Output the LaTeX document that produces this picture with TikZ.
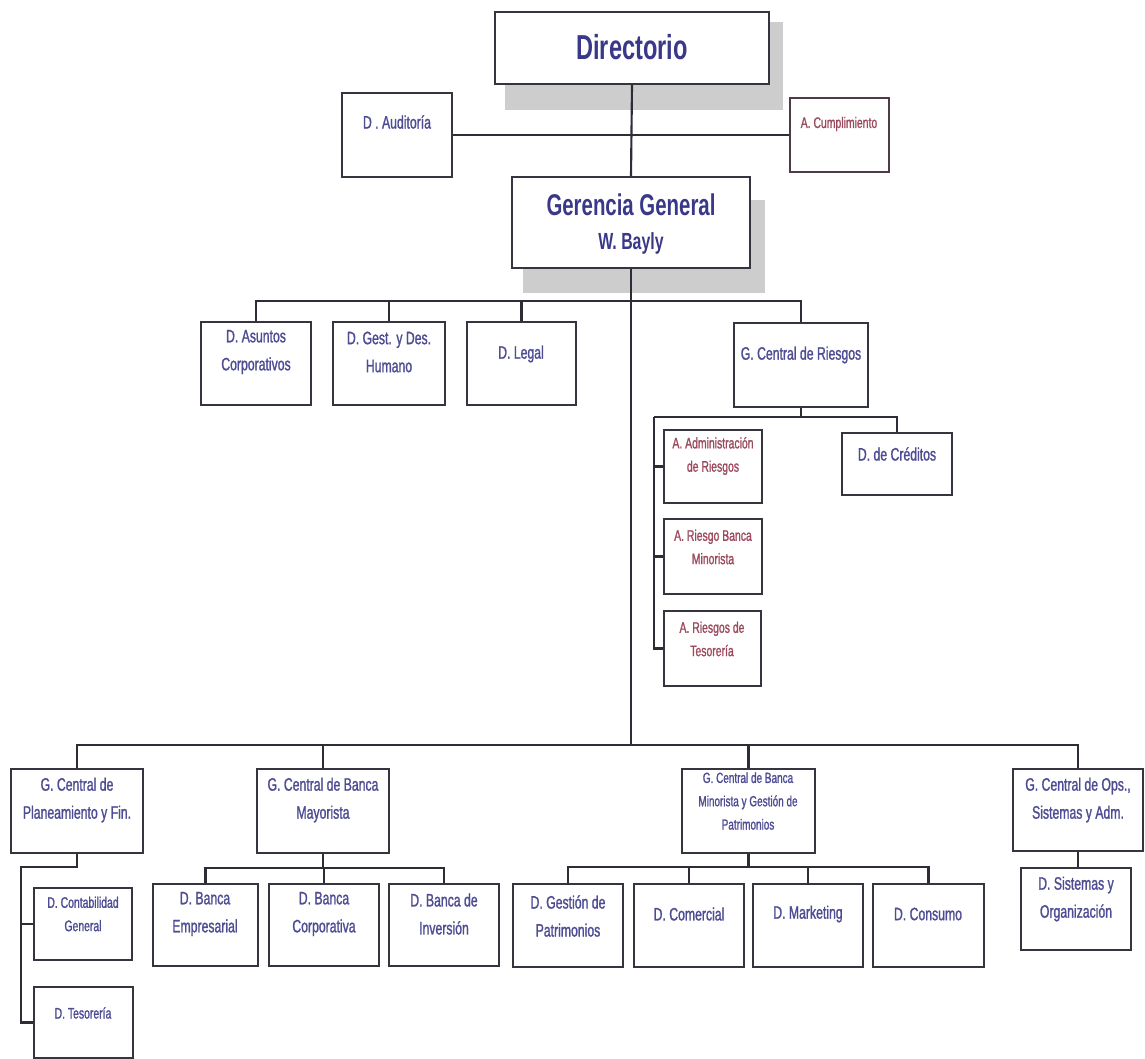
\documentclass[tikz,border=0pt]{standalone}
\usepackage{fontspec}
\setmainfont{Liberation Sans}
\newfontfamily\nar[FakeStretch=0.68]{Liberation Sans}
\newfontfamily\narl[FakeStretch=0.68,FakeBold=1.2]{Liberation Sans}
\usetikzlibrary{fit}
\definecolor{boxc}{HTML}{35343F}
\definecolor{linec}{HTML}{2E2D36}
\definecolor{titc}{HTML}{3A3888}
\definecolor{txtc}{HTML}{4E4C93}
\definecolor{redc}{HTML}{9C4A5E}
\definecolor{shadc}{HTML}{CDCDCD}

\begin{document}
\begin{tikzpicture}[x=0.75pt,y=-0.75pt,
  box/.style={draw=boxc, line width=1.3pt, fill=white, inner sep=0pt},
  lbl/.style={text=txtc, align=center, inner sep=0pt, font=\narl\fontsize{13.5}{21}\selectfont},
  sm/.style={font=\narl\fontsize{11.5}{17.5}\selectfont},
  redt/.style={text=redc},
  title/.style={text=titc, inner sep=0pt, font=\nar\bfseries\fontsize{#1}{#1}\selectfont},
  wire/.style={draw=linec, line width=1.6pt},
  shade/.style={fill=shadc, draw=none}]

\useasboundingbox (0,0) rectangle (1145,1059);
\clip (0,0) rectangle (1145,1059);

% grey drop shadows of the two top boxes
\fill[shade] (505,22) rectangle (783,110);
\fill[shade] (523,200) rectangle (765,293);

% ---- boxes ----
\node[box, fit={(495,12) (769,84)}] (dir) {};
\node[box, fit={(342,93) (452,177)}] (aud) {};
\node[box, draw=boxc!75!redc, fit={(790,98) (889,172)}] (cump) {};
\node[box, fit={(512,177) (750,268)}] (gg) {};

\node[box, fit={(201,322) (311,405)}] (das) {};
\node[box, fit={(333,322) (445,405)}] (dgh) {};
\node[box, fit={(467,322) (576,405)}] (dleg) {};
\node[box, fit={(734,323) (868,407)}] (gcr) {};

\node[box, fit={(664,430) (762,503)}] (adm) {};
\node[box, fit={(664,519) (762,594)}] (rbm) {};
\node[box, fit={(664,611) (761,686)}] (rtes) {};
\node[box, fit={(842,433) (952,495)}] (cred) {};

\node[box, fit={(11,769) (143,853)}] (gcp) {};
\node[box, fit={(257,769) (389,853)}] (gcbm) {};
\node[box, fit={(682,769) (815,853)}] (gcbn) {};
\node[box, fit={(1013,769) (1143,851)}] (ops) {};

\node[box, fit={(34,888) (132,960)}] (cont) {};
\node[box, fit={(34,987) (133,1058)}] (tes) {};
\node[box, fit={(153,884) (258,966)}] (dbe) {};
\node[box, fit={(269,884) (379,966)}] (dbc) {};
\node[box, fit={(389,884) (499,966)}] (dbi) {};
\node[box, fit={(513,884) (623,967)}] (dgp) {};
\node[box, fit={(634,884) (744,967)}] (dcom) {};
\node[box, fit={(753,884) (863,967)}] (dmkt) {};
\node[box, fit={(873,884) (984,967)}] (dcons) {};
\node[box, fit={(1021,868) (1131,950)}] (dsis) {};

% ---- labels ----
\node[title=26] (dir-t) at (632,47) {Directorio};
\node[lbl] (aud-t) at (397,122) {D . Auditoría};
\node[lbl, sm, redt] (cump-t) at (839,124) {A. Cumplimiento};
\node[title=22.5] (gg-t1) at (631,205) {Gerencia General};
\node[title=17.5] (gg-t2) at (631,243) {W. Bayly};

\node[lbl] (das-t) at (256,352) {D. Asuntos\\Corporativos};
\node[lbl] (dgh-t) at (389,352) {D. Gest. y Des.\\Humano};
\node[lbl] (dleg-t) at (521,354) {D. Legal};
\node[lbl] (gcr-t) at (801,355) {G. Central de Riesgos};

\node[lbl, sm, redt] (adm-t) at (713,456) {A. Administración\\de Riesgos};
\node[lbl, sm, redt] (rbm-t) at (713,547) {A. Riesgo Banca\\Minorista};
\node[lbl, sm, redt] (rtes-t) at (712,639) {A. Riesgos de\\Tesorería};
\node[lbl] (cred-t) at (897,454) {D. de Créditos};

\node[lbl] (gcp-t) at (77,800) {G. Central de\\Planeamiento y Fin.};
\node[lbl] (gcbm-t) at (323,800) {G. Central de Banca\\Mayorista};
\node[lbl, font=\narl\fontsize{11}{17.5}\selectfont] (gcbn-t) at (748,801) {G. Central de Banca\\Minorista y Gestión de\\Patrimonios};
\node[lbl] (ops-t) at (1078,800) {G. Central de Ops.,\\Sistemas y Adm.};

\node[lbl, sm] (cont-t) at (83,914) {D. Contabilidad\\General};
\node[lbl, sm] (tes-t) at (83,1013) {D. Tesorería};
\node[lbl] (dbe-t) at (205,914) {D. Banca\\Empresarial};
\node[lbl] (dbc-t) at (324,914) {D. Banca\\Corporativa};
\node[lbl] (dbi-t) at (444,914) {D. Banca de\\Inversión};
\node[lbl] (dgp-t) at (568,916) {D. Gestión de\\Patrimonios};
\node[lbl] (dcom-t) at (689,914) {D. Comercial};
\node[lbl] (dmkt-t) at (808,914) {D. Marketing};
\node[lbl] (dcons-t) at (928,914) {D. Consumo};
\node[lbl] (dsis-t) at (1076,899) {D. Sistemas y\\Organización};

% ---- connectors ----
\coordinate (b1) at (631,301);
\coordinate (b2) at (631,745);
\draw[wire] (dir.south) -- (gg.north);
\draw[wire] (aud.east) -- (cump.west);
\draw[wire, line width=1.9pt] (gg.south) -- (b2);

\draw[wire] (b1) -| (das.north);
\draw[wire] (b1) -| (dgh.north);
\draw[wire] (b1) -| (dleg.north);
\draw[wire] (b1) -| (gcr.north);

\coordinate (r1) at (654,417);
\draw[wire] (gcr.south) |- (r1);
\draw[wire] (gcr.south |- r1) -| (cred.north);
\draw[wire] (r1) |- (rtes.west);
\draw[wire] (r1 |- adm.west) -- (adm.west);
\draw[wire] (r1 |- rbm.west) -- (rbm.west);

\draw[wire] (b2) -| (gcp.north);
\draw[wire] (b2) -| (gcbm.north);
\draw[wire] (b2) -| (gcbn.north);
\draw[wire] (b2) -| (ops.north);

\coordinate (p1) at (21,867);
\draw[wire] (gcp.south) |- (p1) |- (tes.west);
\draw[wire] (p1 |- cont.west) -- (cont.west);

\coordinate (m1) at (323,868);
\draw[wire] (gcbm.south) -- (m1);
\draw[wire] (m1) -| (dbe.north);
\draw[wire] (m1) -| (dbc.north);
\draw[wire] (m1) -| (dbi.north);

\coordinate (n1) at (748.5,867);
\draw[wire] (gcbn.south) -- (n1);
\draw[wire] (n1) -| (dgp.north);
\draw[wire] (n1) -| (dcom.north);
\draw[wire] (n1) -| (dmkt.north);
\draw[wire] (n1) -| (dcons.north);

\draw[wire] (ops.south) -- (ops.south |- dsis.north);
\end{tikzpicture}
\end{document}
